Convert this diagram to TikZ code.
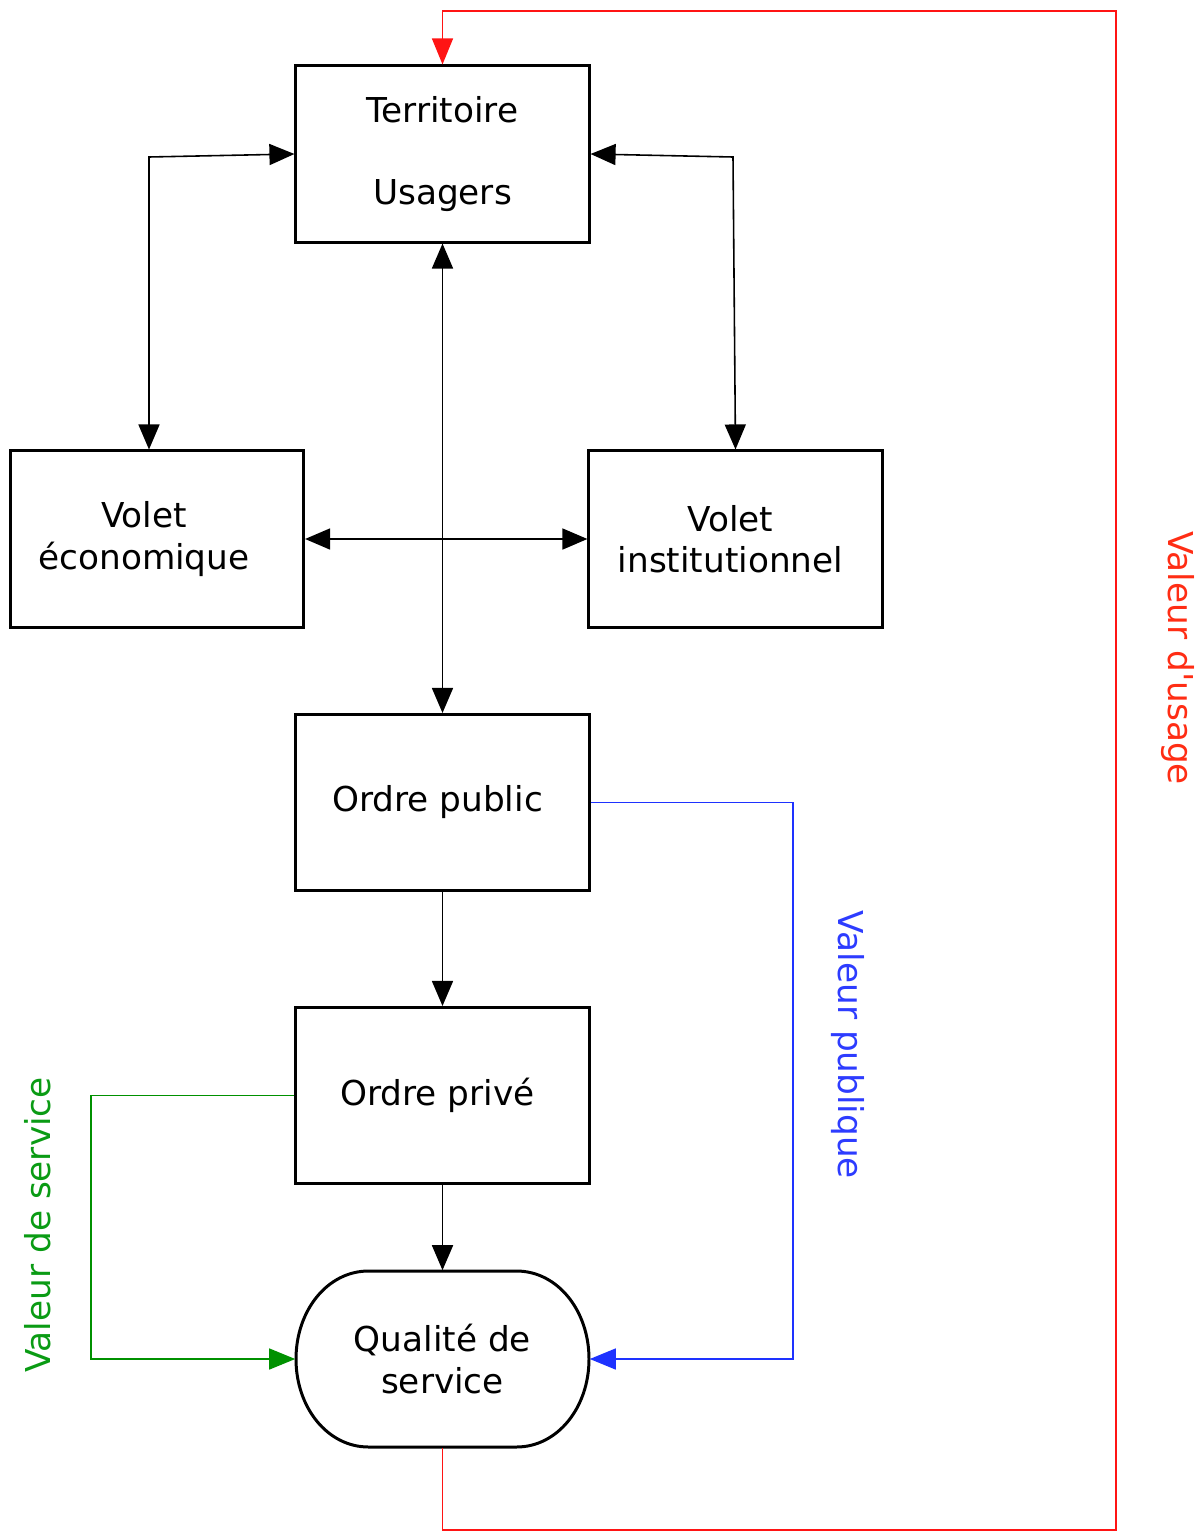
\documentclass[tikz,border=0pt]{standalone}
\usepackage{fontspec}
\setmainfont{DejaVu Sans}
\usetikzlibrary{arrows.meta,calc}
\definecolor{redline}{RGB}{255,20,20}
\definecolor{redtext}{RGB}{255,45,20}
\definecolor{blueline}{RGB}{30,50,255}
\definecolor{bluetext}{RGB}{45,60,255}
\definecolor{greenline}{RGB}{0,145,0}
\definecolor{greentext}{RGB}{10,155,20}
\tikzset{
  boxnode/.style={draw, line width=0.85pt, rectangle, minimum width=2.93cm, minimum height=1.76cm, align=center, inner sep=0pt},
  roundnode/.style={rectangle, minimum width=2.93cm, minimum height=1.76cm, align=center, inner sep=0pt},
  conn/.style={line width=0.45pt, arrows={-Triangle[length=0.25cm,width=0.21cm]}},
  bothconn/.style={line width=0.45pt, arrows={Triangle[length=0.25cm,width=0.21cm]-Triangle[length=0.25cm,width=0.21cm]}},
  colconn/.style={line width=0.4pt, arrows={-Triangle[length=0.26cm,width=0.21cm]}},
  sidelabel/.style={inner sep=0pt}
}
\begin{document}
\begin{tikzpicture}[x=0.01cm, y=-0.01cm, font=\fontsize{9.75}{11.7}\selectfont]
\useasboundingbox (0,0) rectangle (1202,1533);
% boxes
\node[boxnode] (terr) at (442.5,154) {\rule{0pt}{0.1cm}Territoire\\[11.5pt]Usagers};
\node[boxnode] (eco) at (157,539) {\rule{0pt}{0.1cm}Volet\hspace*{0.26cm}\\économique\hspace*{0.26cm}};
\node[boxnode] (inst) at (735.5,539) {Volet\hspace*{0.1cm}\\institutionnel\hspace*{0.1cm}};
\node[boxnode] (opub) at (442.5,802.5) {Ordre public\hspace*{0.1cm}};
\node[boxnode] (opriv) at (442.5,1095.5) {Ordre privé\hspace*{0.1cm}};
\node[roundnode] (qual) at (442.5,1359) {Qualité de\\service};
\draw[line width=0.85pt]
  (368.5,1271) -- (516.5,1271)
  .. controls (557.4,1271) and (589,1310.4) .. (589,1359)
  .. controls (589,1407.6) and (557.4,1447) .. (516.5,1447)
  -- (368.5,1447)
  .. controls (327.6,1447) and (296,1407.6) .. (296,1359)
  .. controls (296,1310.4) and (327.6,1271) .. (368.5,1271) -- cycle;
% corner coordinates
\coordinate (cl) at (149,157);
\coordinate (cr) at (733,157);
\coordinate (b1) at (793,802.5);
\coordinate (g1) at (91,1095.5);
\coordinate (r1) at (442.5,1530);
\coordinate (r2) at (1116,11);
% black connectors
\draw[bothconn] (eco.north -| cl) -- (cl) -- (terr.west);
\draw[bothconn] (terr.east) -- (cr) -- (inst.north);
\draw[bothconn] (terr.south) -- (opub.north);
\draw[bothconn] (eco.east) -- (inst.west);
\draw[conn] (opub.south) -- (opriv.north);
\draw[conn] (opriv.south) -- (qual.north);
% coloured connectors
\draw[colconn, color=blueline] (opub.east) -- (b1) |- (qual.east);
\draw[colconn, color=greenline] (opriv.west) -- (g1) |- (qual.west);
\draw[colconn, color=redline] (qual.south) -- (r1) -| (r2) -| (terr.north);
% labels
\node[sidelabel, text=redtext, rotate=-90] (lusage) at (1178,658) {Valeur d\textquotesingle usage};
\node[sidelabel, text=bluetext, rotate=-90] (lpub) at (848,1045) {Valeur publique};
\node[sidelabel, text=greentext, rotate=90] (lserv) at (38,1225) {Valeur de service};
\end{tikzpicture}
\end{document}
